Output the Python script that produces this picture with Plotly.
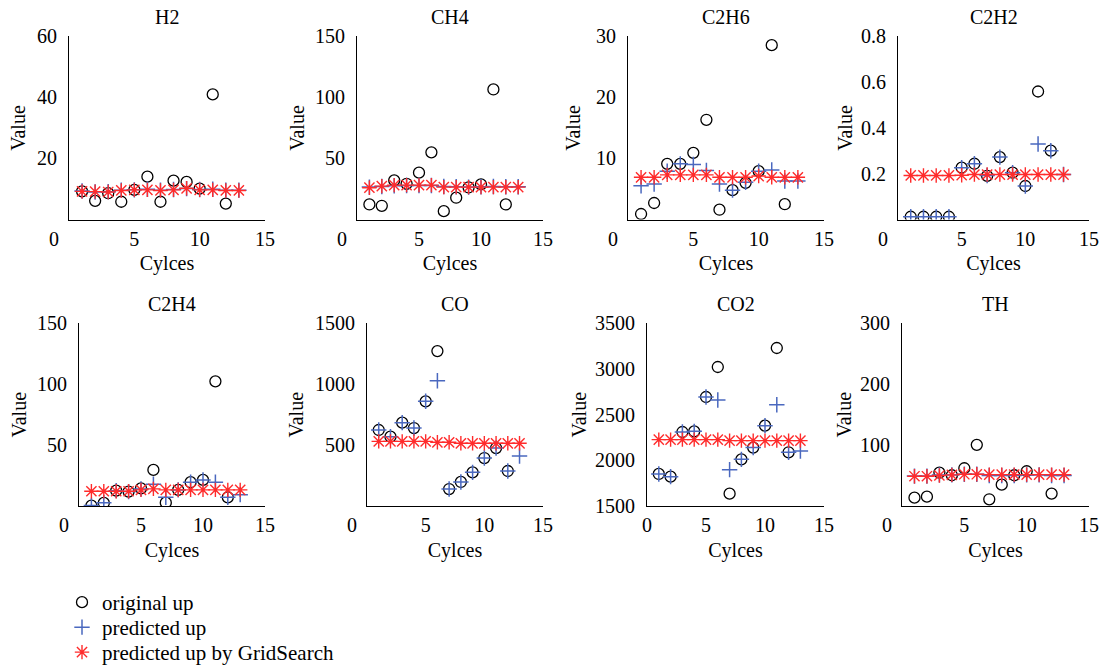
import plotly.graph_objects as go

# ---------------- data ----------------
gases = ["H2", "CH4", "C2H6", "C2H2", "C2H4", "CO", "CO2", "TH"]
cycles_orig = [1, 2, 3, 4, 5, 6, 7, 8, 9, 10, 11, 12]
cycles_pred = [1, 2, 3, 4, 5, 6, 7, 8, 9, 10, 11, 12, 13]

H2_orig = [9.2, 6.1, 8.6, 5.8, 9.7, 14.0, 5.8, 12.7, 12.3, 10.1, 40.9, 5.2]
H2_pred = [9.3, 9.0, 9.1, 9.6, 9.7, 9.9, 9.6, 9.8, 10.1, 9.8, 9.9, 9.6, 9.6]
H2_grid = [9.2, 9.1, 9.0, 9.5, 9.7, 9.7, 9.5, 9.7, 10.2, 9.7, 9.7, 9.5, 9.5]

CH4_orig = [12.3, 11.2, 32.0, 29.2, 38.3, 54.9, 6.8, 17.8, 26.2, 28.7, 106.3, 12.3]
CH4_pred = [26.5, 27.0, 27.5, 27.8, 27.8, 27.8, 27.0, 26.8, 26.5, 26.8, 27.0, 26.8, 26.8]
CH4_grid = [26.0, 27.3, 28.1, 28.1, 28.1, 28.1, 26.5, 26.5, 26.5, 26.5, 26.5, 26.5, 26.5]

C2H6_orig = [0.9, 2.7, 9.1, 9.1, 10.9, 16.3, 1.6, 4.8, 6.0, 7.9, 28.5, 2.5]
C2H6_pred = [5.5, 5.8, 7.9, 9.1, 9.0, 8.0, 5.8, 4.8, 6.1, 7.9, 8.1, 6.3, 6.3]
C2H6_grid = [6.9, 6.9, 7.3, 7.3, 7.3, 7.3, 6.9, 6.9, 6.9, 7.1, 6.9, 6.9, 6.9]

C2H2_orig = [0.012, 0.012, 0.012, 0.012, 0.226, 0.243, 0.19, 0.272, 0.204, 0.146, 0.558, 0.30]
C2H2_pred = [0.012, 0.012, 0.012, 0.012, 0.226, 0.243, 0.192, 0.272, 0.204, 0.146, 0.329, 0.30, 0.196]
C2H2_grid = [0.192, 0.192, 0.192, 0.192, 0.193, 0.196, 0.196, 0.196, 0.196, 0.196, 0.196, 0.196, 0.196]

C2H4_orig = [0.3, 2.5, 12.6, 11.8, 14.5, 29.6, 2.7, 13.2, 19.5, 21.4, 102.2, 7.1]
C2H4_pred = [0.5, 2.7, 12.6, 11.8, 14.0, 17.8, 7.1, 13.2, 19.5, 21.4, 19.5, 7.1, 9.3]
C2H4_grid = [12.1, 12.1, 12.1, 12.1, 13.2, 14.0, 13.2, 13.2, 13.2, 13.2, 13.2, 13.2, 13.2]

CO_orig = [623, 568, 683, 639, 858, 1270, 139, 197, 276, 393, 475, 287]
CO_pred = [623, 568, 683, 639, 858, 1027, 139, 197, 276, 393, 475, 287, 410]
CO_grid = [530, 530, 530, 530, 530, 522, 522, 514, 514, 514, 514, 514, 514]

CO2_orig = [1850, 1821, 2309, 2316, 2691, 3019, 1635, 2010, 2138, 2378, 3227, 2087]
CO2_pred = [1850, 1821, 2309, 2316, 2691, 2658, 1897, 2010, 2138, 2378, 2607, 2087, 2101]
CO2_grid = [2225, 2225, 2225, 2225, 2225, 2225, 2214, 2214, 2214, 2214, 2214, 2214, 2214]

TH_orig = [13.7, 15.3, 54.8, 50.4, 61.9, 100.3, 11.0, 35.0, 50.4, 57.0, None, 20.3]
TH_pred = [49, 49, 51, 51, 52, 52, 50, 50, 50, 51, 51, 50, 50]
TH_grid = [48.8, 48.8, 50.0, 51.0, 52.0, 52.0, 51.5, 51.5, 51.5, 51.5, 51.5, 51.5, 51.5]

y_ranges = [[0, 60], [0, 150], [0, 30], [0, 0.8], [0, 150], [0, 1500], [1500, 3500], [0, 300]]
y_ticks = [[20, 40, 60], [50, 100, 150], [10, 20, 30], [0.2, 0.4, 0.6, 0.8],
           [50, 100, 150], [500, 1000, 1500], [1500, 2000, 2500, 3000, 3500], [100, 200, 300]]
x_ticks = [0, 5, 10, 15]
legend_names = ["original up", "predicted up", "predicted up by GridSearch"]

series = {
    "H2": (H2_orig, H2_pred, H2_grid),
    "CH4": (CH4_orig, CH4_pred, CH4_grid),
    "C2H6": (C2H6_orig, C2H6_pred, C2H6_grid),
    "C2H2": (C2H2_orig, C2H2_pred, C2H2_grid),
    "C2H4": (C2H4_orig, C2H4_pred, C2H4_grid),
    "CO": (CO_orig, CO_pred, CO_grid),
    "CO2": (CO2_orig, CO2_pred, CO2_grid),
    "TH": (TH_orig, TH_pred, TH_grid),
}

# ---------------- layout geometry (pixels) ----------------
W, H = 1103, 667
x_px = [(69, 265), (357, 543), (628, 824), (898, 1089),
        (79, 265), (367, 543), (647, 824), (902, 1089)]
y_px = [(36, 219.5)] * 4 + [(323, 506)] * 4
ytitle_x = [18, 297, 573, 845, 18, 295, 578, 843]
legend_tops = [582, 607, 632]

FONT = "Liberation Serif, Times New Roman, serif"
FS = 20
BLUE = "#4a68bf"
RED = "#ff2b2b"

fig = go.Figure()
layout = dict(
    width=W, height=H,
    margin=dict(l=0, r=0, t=0, b=0, autoexpand=False),
    paper_bgcolor="white", plot_bgcolor="white",
    font=dict(family=FONT, size=FS, color="black"),
    showlegend=True,
)
for k, top in enumerate(legend_tops):
    key = "legend" if k == 0 else "legend%d" % (k + 1)
    layout[key] = dict(x=62 / W, y=1 - top / H, xanchor="left", yanchor="top",
                       xref="container", yref="container",
                       font=dict(family=FONT, size=21), bgcolor="rgba(0,0,0,0)",
                       borderwidth=0, itemwidth=30)

annotations = []
legend_keys = ["legend", "legend2", "legend3"]

for i, g in enumerate(gases):
    orig, pred, grid = series[g]
    ax = "" if i == 0 else str(i + 1)
    xa, ya = "x" + ax, "y" + ax
    first = i == 0
    fig.add_trace(go.Scatter(
        x=cycles_orig, y=orig, mode="markers", name=legend_names[0],
        marker=dict(symbol="circle-open", size=11, color="black", line=dict(width=1.3)),
        xaxis=xa, yaxis=ya, showlegend=first, legend=legend_keys[0]))
    fig.add_trace(go.Scatter(
        x=cycles_pred, y=pred, mode="markers", name=legend_names[1],
        marker=dict(symbol="cross-thin-open", size=11, color=BLUE, line=dict(width=1.5, color=BLUE)),
        xaxis=xa, yaxis=ya, showlegend=first, legend=legend_keys[1]))
    fig.add_trace(go.Scatter(
        x=cycles_pred, y=grid, mode="markers", name=legend_names[2],
        marker=dict(symbol="asterisk-open", size=12, color=RED, line=dict(width=1.4, color=RED)),
        xaxis=xa, yaxis=ya, showlegend=first, legend=legend_keys[2]))

    x0, x1 = x_px[i]
    yt, yb = y_px[i]
    shifted_zero = g != "CO2"
    xtext = [("0" + "\u00a0" * 6) if shifted_zero else "0", "5", "10", "15"]
    layout["xaxis" + ax] = dict(
        domain=[x0 / W, x1 / W], range=[0, 15], anchor=ya,
        tickvals=x_ticks, ticktext=xtext, ticks="", showgrid=False, zeroline=False,
        showline=True, linecolor="black", linewidth=1, ticklabelstandoff=1,
        tickfont=dict(family=FONT, size=FS),
        title=dict(text="Cylces", standoff=7, font=dict(family=FONT, size=FS)), automargin=False,
    )
    layout["yaxis" + ax] = dict(
        domain=[1 - yb / H, 1 - yt / H], range=y_ranges[i], anchor=xa,
        tickvals=y_ticks[i], ticks="", showgrid=False, zeroline=False,
        showline=True, linecolor="black", linewidth=1, ticklabelstandoff=7,
        tickfont=dict(family=FONT, size=FS), automargin=False,
    )
    annotations.append(dict(
        text=g, x=(x0 + x1) / 2 / W, y=1 - yt / H, xref="paper", yref="paper",
        xanchor="center", yanchor="middle", yshift=19, showarrow=False,
        font=dict(family=FONT, size=FS)))
    annotations.append(dict(
        text="Value", x=ytitle_x[i] / W, y=1 - (yt + yb) / 2 / H, xref="paper", yref="paper",
        xanchor="center", yanchor="middle", textangle=-90, showarrow=False,
        font=dict(family=FONT, size=FS)))

layout["annotations"] = annotations
fig.update_layout(**layout)
fig.write_html("out.html")
